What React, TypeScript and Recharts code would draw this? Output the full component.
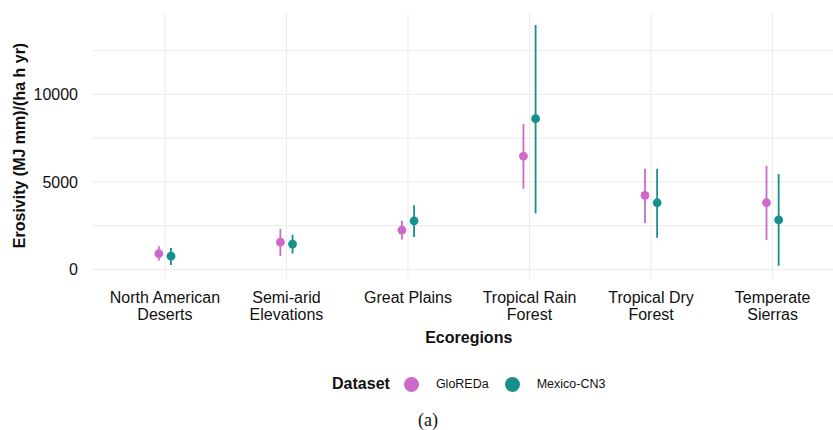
import type { ReactElement } from "react";
import {
  CartesianGrid,
  ErrorBar,
  Label,
  Legend,
  Scatter,
  ScatterChart,
  XAxis,
  YAxis,
} from "recharts";

const FONT = "'Liberation Sans', Arial, sans-serif";
const TEXT = "#111111";
const PINK = "#CD69C9";
const TEAL = "#15908A";
const GRID = "#ebebeb";

const categories = [
  "North American Deserts",
  "Semi-arid Elevations",
  "Great Plains",
  "Tropical Rain Forest",
  "Tropical Dry Forest",
  "Temperate Sierras",
];
const categoryLines = [
  ["North American", "Deserts"],
  ["Semi-arid", "Elevations"],
  ["Great Plains"],
  ["Tropical Rain", "Forest"],
  ["Tropical Dry", "Forest"],
  ["Temperate", "Sierras"],
];

// GloREDa: point estimate and interval per ecoregion
const gloredaMean = [910, 1560, 2250, 6470, 4230, 3810];
const gloredaLow = [510, 760, 1710, 4610, 2650, 1690];
const gloredaHigh = [1330, 2320, 2780, 8320, 5750, 5920];

// Mexico-CN3
const cn3Mean = [760, 1450, 2780, 8610, 3810, 2830];
const cn3Low = [250, 910, 1850, 3200, 1810, 210];
const cn3High = [1230, 1980, 3670, 13960, 5750, 5450];

const yTicks = [0, 2500, 5000, 7500, 10000, 12500];
const yLabelTicks = [0, 5000, 10000];

const DODGE = 0.05;

interface RangePoint {
  x: number;
  y: number;
  err: [number, number];
  name: string;
}

function build(mean: number[], low: number[], high: number[], shift: number): RangePoint[] {
  return categories.map((name, i) => ({
    x: i + shift,
    y: mean[i],
    err: [mean[i] - low[i], high[i] - mean[i]],
    name,
  }));
}

const gloredaData = build(gloredaMean, gloredaLow, gloredaHigh, -DODGE);
const cn3Data = build(cn3Mean, cn3Low, cn3High, DODGE);

function dot(color: string) {
  return (props: { cx?: number; cy?: number }) => (
    <circle cx={props.cx} cy={props.cy} r={4.4} fill={color} />
  );
}

function CategoryTick(props: { x?: number; y?: number; payload?: { value: number } }): ReactElement {
  const { x = 0, y = 0, payload } = props;
  const lines = categoryLines[Math.round(payload?.value ?? 0)] ?? [];
  return (
    <g>
      {lines.map((line, k) => (
        <text
          key={line}
          x={x}
          y={y + 25 + k * 16.5}
          textAnchor="middle"
          fontSize={16}
          fontFamily={FONT}
          fill={TEXT}
        >
          {line}
        </text>
      ))}
    </g>
  );
}

function LegendRow(): ReactElement {
  const entries = [
    { label: "GloREDa", color: PINK },
    { label: "Mexico-CN3", color: TEAL },
  ];
  return (
    <div
      style={{
        display: "flex",
        alignItems: "center",
        justifyContent: "center",
        fontFamily: FONT,
        color: TEXT,
        height: 24,
      }}
    >
      <span style={{ fontWeight: "bold", fontSize: 16, marginRight: 14 }}>Dataset</span>
      {entries.map((entry, i) => (
        <span key={entry.label} style={{ display: "flex", alignItems: "center", marginLeft: i ? 16 : 0 }}>
          <span
            style={{
              width: 15,
              height: 15,
              borderRadius: "50%",
              backgroundColor: entry.color,
              display: "inline-block",
              marginRight: 17,
            }}
          />
          <span style={{ fontSize: 12.5 }}>{entry.label}</span>
        </span>
      ))}
    </div>
  );
}

export default function App(): ReactElement {
  return (
    <div
      style={{
        position: "absolute",
        left: 0,
        top: 0,
        width: 833,
        height: 430,
        overflow: "hidden",
        background: "#ffffff",
      }}
    >
      <ScatterChart width={850} height={430} margin={{ top: 13, right: 4.5, bottom: 0, left: 0 }}>
        <CartesianGrid stroke={GRID} strokeWidth={1} syncWithTicks />
        <XAxis
          type="number"
          dataKey="x"
          domain={[-0.6, 5.6]}
          ticks={[0, 1, 2, 3, 4, 5]}
          allowDataOverflow
          height={152}
          axisLine={false}
          tickLine={false}
          tickSize={0}
          tickMargin={0}
          interval={0}
          tick={<CategoryTick />}
        >
          <Label
            content={({ viewBox }: { viewBox?: { x: number; y: number; width: number } }) =>
              viewBox ? (
                <text
                  x={viewBox.x + viewBox.width / 2}
                  y={viewBox.y + 65}
                  textAnchor="middle"
                  fontSize={16}
                  fontWeight="bold"
                  fontFamily={FONT}
                  fill={TEXT}
                >
                  Ecoregions
                </text>
              ) : null
            }
          />
        </XAxis>
        <YAxis
          type="number"
          dataKey="y"
          domain={[-488, 14650]}
          allowDataOverflow
          ticks={yTicks}
          width={92}
          axisLine={false}
          tickLine={false}
          tickSize={0}
          tickMargin={14}
          tick={{ fontSize: 16, fontFamily: FONT, fill: TEXT }}
          tickFormatter={(v: number) => (yLabelTicks.includes(v) ? String(v) : "")}
        >
          <Label
            content={({ viewBox }: { viewBox?: { x: number; y: number; height: number } }) =>
              viewBox ? (
                <text
                  x={25}
                  y={viewBox.y + viewBox.height / 2}
                  transform={`rotate(-90, 25, ${viewBox.y + viewBox.height / 2})`}
                  textAnchor="middle"
                  fontSize={16}
                  fontWeight="bold"
                  fontFamily={FONT}
                  fill={TEXT}
                >
                  Erosivity (MJ mm)/(ha h yr)
                </text>
              ) : null
            }
          />
        </YAxis>
        <Legend
          layout="horizontal"
          verticalAlign="middle"
          align="center"
          wrapperStyle={{ top: 372, left: 92, width: 753.5 }}
          content={() => <LegendRow />}
        />
        <Scatter name="GloREDa" data={gloredaData} fill={PINK} shape={dot(PINK)} isAnimationActive={false}>
          <ErrorBar dataKey="err" direction="y" width={0} stroke={PINK} strokeWidth={1.8} isAnimationActive={false} />
        </Scatter>
        <Scatter name="Mexico-CN3" data={cn3Data} fill={TEAL} shape={dot(TEAL)} isAnimationActive={false}>
          <ErrorBar dataKey="err" direction="y" width={0} stroke={TEAL} strokeWidth={1.8} isAnimationActive={false} />
        </Scatter>
      </ScatterChart>
      <div
        style={{
          position: "absolute",
          top: 409.5,
          left: 0,
          width: 856,
          textAlign: "center",
          fontFamily: "'Liberation Serif', 'Times New Roman', serif",
          fontSize: 18,
          lineHeight: "20px",
          color: TEXT,
        }}
      >
        (a)
      </div>
    </div>
  );
}
